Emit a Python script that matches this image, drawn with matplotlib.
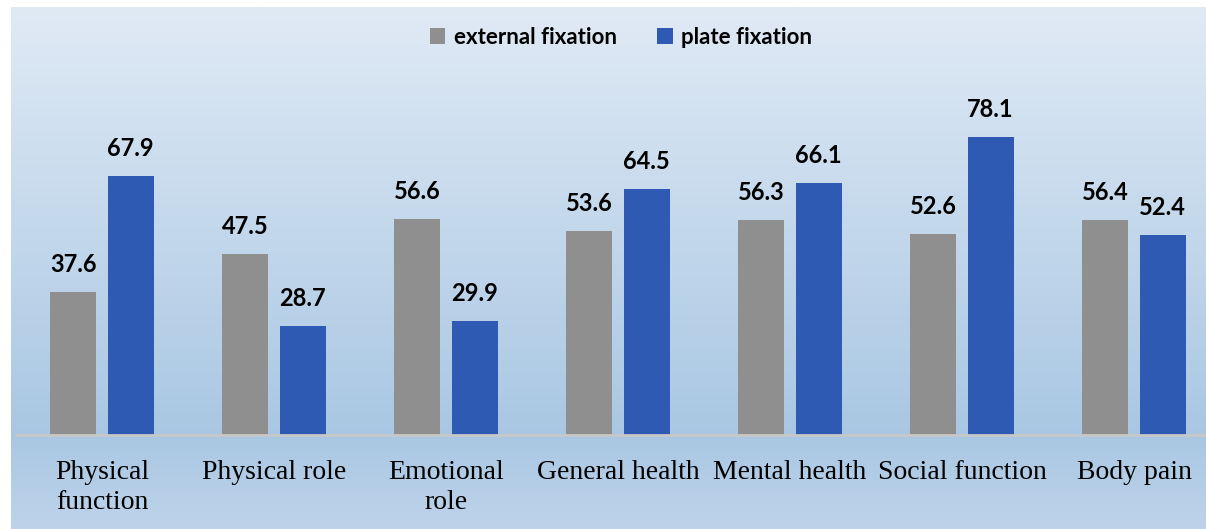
import numpy as np
import matplotlib.pyplot as plt
from matplotlib.colors import LinearSegmentedColormap

categories = ["Physical\nfunction", "Physical role", "Emotional\nrole", "General health",
              "Mental health", "Social function", "Body pain"]
external = [37.6, 47.5, 56.6, 53.6, 56.3, 52.6, 56.4]
plate = [67.9, 28.7, 29.9, 64.5, 66.1, 78.1, 52.4]

W, H = 1206, 529
fig = plt.figure(figsize=(W / 100, H / 100), dpi=100)
fig.patch.set_facecolor("white")

# gradient background panel
bg = fig.add_axes([11 / W, 0, 1 - 11 / W, 1 - 7 / H])
bg.set_axis_off()
grad_cmap = LinearSegmentedColormap.from_list(
    "bg", [(0.0, "#bed3ea"), (0.18, "#a9c7e3"), (1.0, "#e0eaf5")])
bg.imshow(np.linspace(0, 1, 256)[:, None], aspect="auto", cmap=grad_cmap,
          origin="lower", extent=[0, 1, 0, 1])
bg.set_xlim(0, 1)
bg.set_ylim(0, 1)

# main axes: baseline at y=435 px, 3.815 px per unit
base_y = 435
ppu = 3.815
ymax = 100
ax_h = ymax * ppu
ax = fig.add_axes([16 / W, (H - base_y) / H, (W - 16) / W, ax_h / H])
ax.patch.set_alpha(0)

x = np.arange(len(categories))
bw = 0.267
off = 0.166
gray = "#8f8f8f"
blue = "#2e5ab4"
b1 = ax.bar(x - off, external, bw, color=gray, label="external fixation", zorder=2)
b2 = ax.bar(x + off, plate, bw, color=blue, label="plate fixation", zorder=2)

lbl_font = dict(family=["Lato", "DejaVu Sans"], fontsize=17, fontweight="bold", color="black")
for bars, vals in ((b1, external), (b2, plate)):
    for r, v in zip(bars, vals):
        ax.annotate(f"{v:.1f}", (r.get_x() + r.get_width() / 2, v), xytext=(0, 16),
                    textcoords="offset pixels", ha="center", va="bottom", **lbl_font)

ax.set_xlim(-0.5, 6.5 - 14 / 172)
ax.set_ylim(0, ymax)
ax.set_yticks([])
for s in ("top", "right", "left"):
    ax.spines[s].set_visible(False)
ax.spines["bottom"].set_color("#c8c8c8")
ax.spines["bottom"].set_linewidth(2)
ax.spines["bottom"].set_zorder(3)
ax.set_xticks(x)
ax.set_xticklabels(categories, family=["Liberation Serif"], fontsize=20, linespacing=1.25)
ax.tick_params(axis="x", length=0, pad=18)

leg = ax.legend(loc="center", bbox_to_anchor=(621 / W, 1 - 37 / H),
                bbox_transform=fig.transFigure, ncol=2, frameon=False,
                prop=dict(family=["Lato", "DejaVu Sans"], size=16, weight="bold"),
                handlelength=0.7, handleheight=0.7, handletextpad=0.4, columnspacing=1.8)

fig.savefig("out.png", dpi=100)
